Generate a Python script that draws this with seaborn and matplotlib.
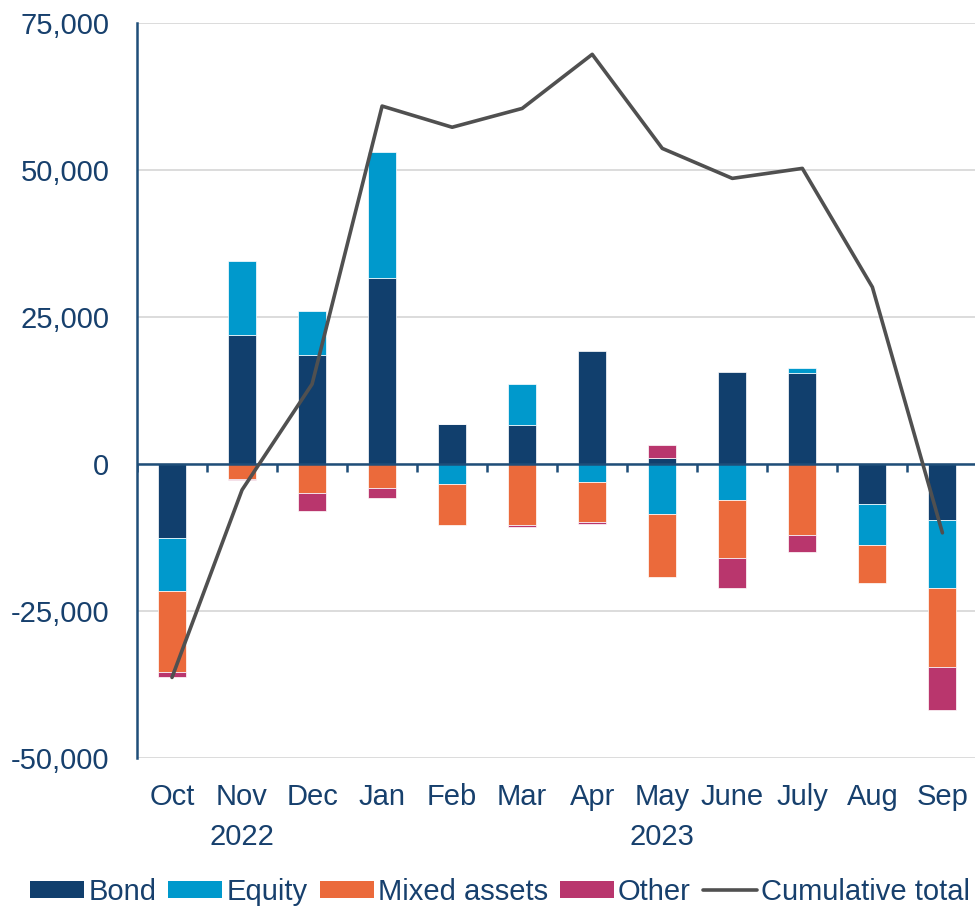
import numpy as np
import matplotlib
matplotlib.use('Agg')
import matplotlib.pyplot as plt
import seaborn as sns
from matplotlib.patches import Patch
from matplotlib.lines import Line2D

# Data (fund flows per month)
months = ['Oct', 'Nov', 'Dec', 'Jan', 'Feb', 'Mar', 'Apr', 'May', 'June', 'July', 'Aug', 'Sep']
years = ['2022', '2023']
bond = [-12500, 21900, 18500, 31700, 6750, 6650, 19200, 1100, 15700, 15500, -6800, -9450]
equity = [-9100, 12600, 7550, 21400, -3450, 6950, -3100, -8500, -6200, 850, -7050, -11600]
mixed = [-13700, -2500, -5000, -4100, -6900, -10400, -6750, -10700, -9750, -12000, -6450, -13550]
other = [-850, -200, -3050, -1750, 0, -300, -350, 2100, -5100, -2900, 0, -7200]
cumulative = [-36300, -4400, 13600, 60900, 57300, 60500, 69700, 53700, 48600, 50300, 30100, -11700]

series_names = ['Bond', 'Equity', 'Mixed assets', 'Other']
colors = ['#113F6D', '#0099CC', '#EB6A3B', '#B9366D']
text_color = '#17406D'

sns.set_style('white')
plt.rcParams['font.family'] = ['Liberation Sans', 'DejaVu Sans']
plt.rcParams['axes.unicode_minus'] = False

fig = plt.figure(figsize=(9.75, 9.06), dpi=100)
ax = fig.add_axes([0.1405, 0.1634, 0.862, 0.811])

x = np.arange(len(months))
pos_base = np.zeros(len(months))
neg_base = np.zeros(len(months))
for vals, c in zip([bond, equity, mixed, other], colors):
    v = np.array(vals, dtype=float)
    bottoms = np.where(v >= 0, pos_base, neg_base)
    ax.bar(x, v, bottom=bottoms, width=0.4, color=c, edgecolor='#ffffff', linewidth=0.5, zorder=3)
    pos_base += np.where(v >= 0, v, 0)
    neg_base += np.where(v < 0, v, 0)

sns.lineplot(x=x, y=cumulative, ax=ax, color='#505050', linewidth=2.6, zorder=5)

# axes styling
ax.set_xlim(-0.5, 11.5)
ax.set_ylim(-50000, 75000)
ax.set_yticks(np.arange(-50000, 75001, 25000))
ax.yaxis.set_major_formatter(matplotlib.ticker.StrMethodFormatter('{x:,.0f}'))
ax.grid(axis='y', color='#D9D9D9', linewidth=1.3, zorder=0)
for s in ['top', 'right', 'bottom']:
    ax.spines[s].set_visible(False)
ax.spines['left'].set_color('#1F4E79')
ax.spines['left'].set_linewidth(1.8)
ax.axhline(0, color='#1F4E79', linewidth=1.8, zorder=4)
ax.vlines(np.arange(-0.5, 11.0, 1.0), -1400, 0, color='#1F4E79', linewidth=1.8, zorder=4)

ax.set_xticks(x)
ax.set_xticklabels(months)
ax.tick_params(axis='x', length=0, pad=18, labelsize=21, labelcolor=text_color)
ax.tick_params(axis='y', length=0, pad=20, labelsize=21, labelcolor=text_color)

trans = matplotlib.transforms.blended_transform_factory(ax.transData, fig.transFigure)
ax.text(1, 1 - 837 / 906, years[0], transform=trans, ha='center', va='center', fontsize=21, color=text_color)
ax.text(7, 1 - 837 / 906, years[1], transform=trans, ha='center', va='center', fontsize=21, color=text_color)

handles = [Patch(facecolor=c, edgecolor='none') for c in colors]
handles.append(Line2D([0], [0], color='#505050', linewidth=2.6))
labels = series_names + ['Cumulative total']
fig.legend(handles, labels, loc='center', bbox_to_anchor=(0.513, 1 - 892 / 906), ncol=5, frameon=False,
           fontsize=21, labelcolor=text_color, handlelength=1.85, handleheight=0.55,
           handletextpad=0.15, columnspacing=0.4)

fig.savefig('out.png', dpi=100)
